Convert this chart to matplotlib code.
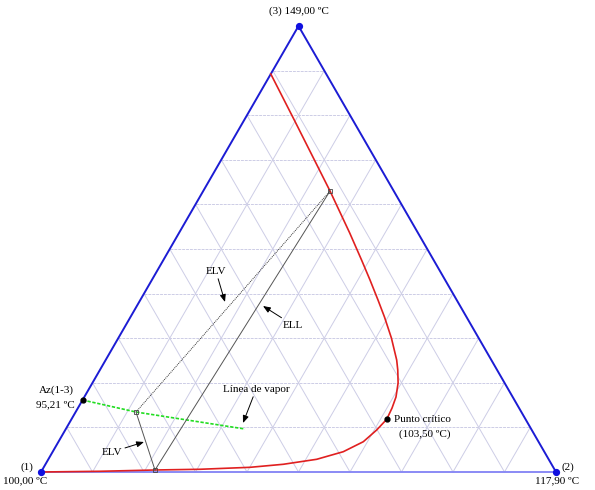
import numpy as np
import matplotlib.pyplot as plt

plt.rcParams['font.family'] = ['Liberation Serif', 'DejaVu Serif']

# binodal curve, mole fractions of component (2) and (3)
bin_x2 = [0.0, 0.1138, 0.2191, 0.3057, 0.4006, 0.4618, 0.5211, 0.5642,
          0.5919, 0.6047, 0.6122, 0.6099, 0.6052, 0.5936, 0.5784, 0.5651,
          0.5302, 0.4932, 0.4615, 0.4236, 0.3848, 0.3315, 0.2462, 0.1811,
          0.0972, 0.0]
bin_x3 = [0.0, 0.0016, 0.0045, 0.0061, 0.0105, 0.0173, 0.0285, 0.0455,
          0.0679, 0.0942, 0.1182, 0.1435, 0.1682, 0.1996, 0.2287, 0.2511,
          0.3004, 0.3475, 0.3857, 0.4305, 0.4753, 0.5359, 0.63, 0.6996,
          0.7892, 0.8924]

# vapour line starting at the 1-3 azeotrope
vap_x2 = [0.0, 0.1172, 0.235, 0.3479]
vap_x3 = [0.1614, 0.1345, 0.115, 0.0964]

# liquid-liquid tie line ends and the vapour in equilibrium
ell_x2 = [0.2191, 0.2462]
ell_x3 = [0.0045, 0.63]
elv_x2 = 0.1172
elv_x3 = 0.1345

az_x2, az_x3 = 0.0, 0.1614
crit_x2, crit_x3 = 0.6122, 0.1182

n_grid = 10

H = np.sqrt(3) / 2


def tern(x2, x3):
    x2 = np.asarray(x2, float)
    x3 = np.asarray(x3, float)
    return x2 + x3 / 2, x3 * H


fig = plt.figure(figsize=(5.95, 4.9), dpi=100)
ax = fig.add_axes([0, 0, 1, 1])
ax.set_xlim(-41 / 515, 554 / 515)
ax.set_ylim(-18 / 515, 472 / 515)
ax.set_axis_off()

# grid lines parallel to the three sides
gcol = '#cdcde6'
for i in range(1, n_grid):
    f = i / n_grid
    x, y = tern([0, 1 - f], [f, f])
    ax.plot(x, y, color=gcol, lw=0.7, ls=(0, (3, 1)), zorder=1)
    x, y = tern([f, f], [0, 1 - f])
    ax.plot(x, y, color=gcol, lw=0.7, zorder=1)
    x, y = tern([0, 1 - f], [1 - f, 0])
    ax.plot(x, y, color=gcol, lw=0.7, zorder=1)

# triangle sides
x, y = tern([0, 1], [0, 0])
ax.plot(x, y, color='#8a8af5', lw=1.4, zorder=2)
x, y = tern([0, 0], [0, 1])
ax.plot(x, y, color='#1c1cd4', lw=1.4, zorder=2)
x, y = tern([1, 0], [0, 1])
ax.plot(x, y, color='#1c1cd4', lw=1.4, zorder=2)

vx, vy = tern([0, 1, 0], [0, 0, 1])
ax.plot(vx, vy, 'o', color='#1010e0', ms=4.2, zorder=6)

# binodal
x, y = tern(bin_x2, bin_x3)
ax.plot(x, y, color='#e02020', lw=1.2, zorder=3, solid_joinstyle='round')

# vapour line
x, y = tern(vap_x2, vap_x3)
ax.plot(x, y, color='#22dd22', lw=1.2, ls=(0, (2, 1)), zorder=3)

# tie lines
x, y = tern(ell_x2, ell_x3)
ax.plot(x, y, color='#555555', lw=0.7, zorder=4)
x, y = tern([elv_x2, ell_x2[1]], [elv_x3, ell_x3[1]])
ax.plot(x, y, color='#333333', lw=0.7, ls=(0, (1, 1)), zorder=4)
x, y = tern([elv_x2, ell_x2[0]], [elv_x3, ell_x3[0]])
ax.plot(x, y, color='#555555', lw=0.7, zorder=4)
x, y = tern(ell_x2 + [elv_x2], ell_x3 + [elv_x3])
ax.plot(x, y, 's', mfc='none', mec='#444444', mew=0.6, ms=2.8, zorder=5)

# azeotrope and critical point
x, y = tern([az_x2, crit_x2], [az_x3, crit_x3])
ax.plot(x, y, 'o', color='black', ms=3.5, zorder=6)

fs = 8
ax.text(vx[0] - 0.028, vy[0] + 0.01, '(1)', ha='center', va='center', fontsize=fs)
ax.text(vx[0] - 0.03, vy[0] - 0.018, '100,00 ºC', ha='center', va='center', fontsize=fs)
ax.text(vx[1] + 0.01, vy[1] + 0.01, '(2)', ha='left', va='center', fontsize=fs)
ax.text(vx[1] - 0.04, vy[1] - 0.017, '117,90 ºC', ha='left', va='center', fontsize=fs)
ax.text(vx[2], vy[2] + 0.029, '(3) 149,00 ºC', ha='center', va='center', fontsize=fs)

ax_x, ax_y = tern(az_x2, az_x3)
ax.text(ax_x - 0.016, ax_y + 0.019, 'Az(1-3)', ha='right', va='center', fontsize=fs)
ax.text(ax_x - 0.016, ax_y - 0.01, '95,21 ºC', ha='right', va='center', fontsize=fs)

cx, cy = tern(crit_x2, crit_x3)
ax.text(cx + 0.015, cy, 'Punto crítico', ha='left', va='center', fontsize=fs)
ax.text(cx + 0.074, cy - 0.029, '(103,50 ºC)', ha='center', va='center', fontsize=fs)


def px(p, q):
    return (p - 41) / 515, (472 - q) / 515


arrow = dict(arrowstyle='-|>,head_length=0.55,head_width=0.22', color='black',
             lw=0.7, shrinkA=0, shrinkB=0)
ax.annotate('Línea de vapor', xy=px(243, 423), xytext=px(256, 394),
            ha='center', va='bottom', fontsize=fs, arrowprops=arrow)
ax.annotate('ELV', xy=px(144, 442), xytext=px(112, 452),
            ha='center', va='center', fontsize=fs, arrowprops=arrow)
ax.annotate('ELV', xy=px(225, 302), xytext=px(216, 276),
            ha='center', va='bottom', fontsize=fs, arrowprops=arrow)
ax.annotate('ELL', xy=px(263, 306), xytext=px(293, 325),
            ha='center', va='center', fontsize=fs, arrowprops=arrow)

fig.savefig('out.png', dpi=100)
